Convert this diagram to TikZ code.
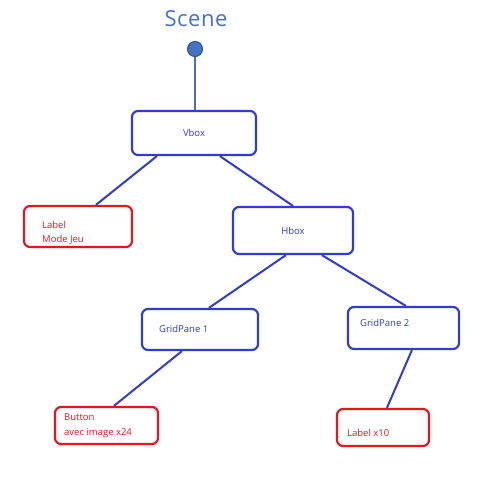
\documentclass[tikz,border=0pt]{standalone}
\usepackage{fontspec}
\setmainfont{Open Sans}
\usetikzlibrary{calc}
\definecolor{boxblue}{RGB}{50,60,205}
\definecolor{boxred}{RGB}{232,20,30}
\definecolor{sceneblue}{RGB}{68,114,196}
\definecolor{circborder}{RGB}{47,82,143}
\tikzset{
  bbox/.style={draw=boxblue, line width=2.2pt, rounded corners=6pt, fill=white, inner sep=0pt},
  rbox/.style={draw=boxred, line width=2.2pt, rounded corners=6pt, fill=white, inner sep=0pt},
  btxt/.style={text=boxblue, font=\fontsize{9.5}{13}\selectfont, inner sep=0pt},
  rtxt/.style={text=boxred, font=\fontsize{9.5}{14.5}\selectfont, inner sep=0pt, align=left},
  conn/.style={draw=boxblue, line width=2pt},
}
\begin{document}
\begin{tikzpicture}[x=1pt,y=-1pt]
\useasboundingbox (0,0) rectangle (478,477);
\node[text=sceneblue, font=\fontsize{22}{26}\selectfont, inner sep=0pt] (scene) at (196,19) {S\kern0.5pt c\kern0.5pt e\kern0.5pt n\kern0.5pt e};
\node[circle, draw=circborder, line width=1pt, fill=sceneblue, minimum size=15pt, inner sep=0pt] (root) at (195,49) {};
\node[bbox, minimum width=124pt, minimum height=44pt] (vbox) at (194,133) {};
\node[rbox, minimum width=108pt, minimum height=41pt] (label) at (78,226.5) {};
\node[bbox, minimum width=120pt, minimum height=47pt] (hbox) at (293,230.5) {};
\node[bbox, minimum width=116pt, minimum height=41pt] (gp1) at (200,329.5) {};
\node[bbox, minimum width=111pt, minimum height=42pt] (gp2) at (403.5,328) {};
\node[rbox, minimum width=103pt, minimum height=37pt] (button) at (106.5,425.5) {};
\node[rbox, minimum width=92pt, minimum height=37pt] (lx) at (383,427.5) {};
% texts
\node[btxt] (tvbox) at (vbox.center) {Vbox};
\node[btxt] (thbox) at (hbox.center) {Hbox};
\node[btxt, anchor=west] (tgp1) at (159,329) {GridPane 1};
\node[btxt, anchor=west] (tgp2) at (360,323) {GridPane 2};
\node[rtxt, anchor=west] (tlabel) at (42,233) {Label\\Mode Jeu};
\node[rtxt, anchor=west] (tbutton) at (64,425.5) {Button\\avec image x24};
\node[rtxt, anchor=west] (tlx) at (347,433) {Label x10};
% connectors
\draw[draw=sceneblue, line width=1.5pt] (root.south) -- (root.south |- vbox.north);
\draw[conn] ($(vbox.south west)+(26,0)$) -- ($(label.north west)+(73,0)$);
\draw[conn] ($(vbox.south west)+(89,0)$) -- (hbox.north);
\draw[conn] ($(hbox.south west)+(54,0)$) -- ($(gp1.north west)+(68,0)$);
\draw[conn] ($(hbox.south west)+(90,0)$) -- ($(gp2.north west)+(59,0)$);
\draw[conn] ($(gp1.south west)+(41,0)$) -- ($(button.north west)+(60,0)$);
\draw[conn] ($(gp2.south west)+(65,0)$) -- ($(lx.north west)+(51,0)$);
\end{tikzpicture}
\end{document}
